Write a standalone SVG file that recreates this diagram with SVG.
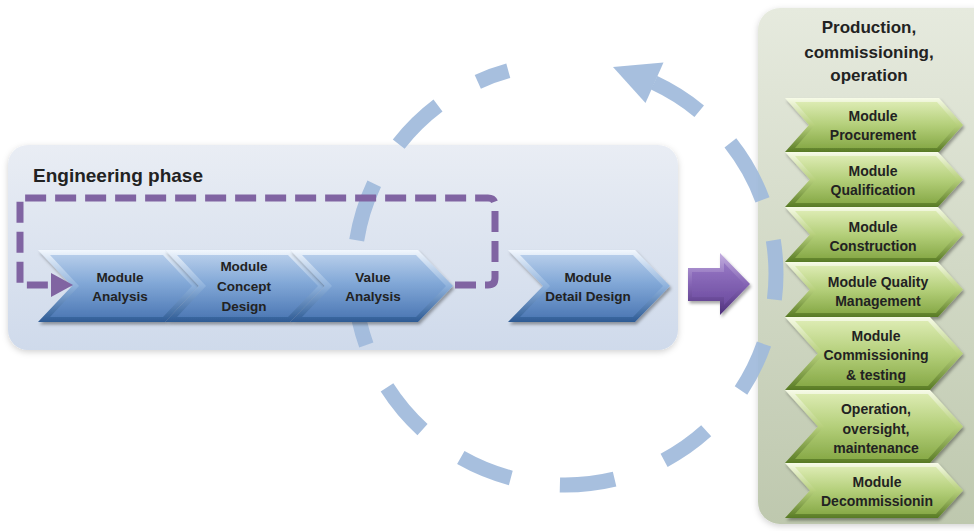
<svg xmlns="http://www.w3.org/2000/svg" width="974" height="531" viewBox="0 0 974 531">
<defs>
  <linearGradient id="engPanel" x1="0" y1="0" x2="0" y2="1">
    <stop offset="0" stop-color="#e9edf4"/>
    <stop offset="1" stop-color="#cfdaeb"/>
  </linearGradient>
  <linearGradient id="prodPanel" x1="0" y1="0" x2="0" y2="1">
    <stop offset="0" stop-color="#e6eade"/>
    <stop offset="1" stop-color="#bec8ae"/>
  </linearGradient>
  <linearGradient id="blueOuter" x1="0" y1="0" x2="0" y2="1">
    <stop offset="0" stop-color="#f2f7fd"/>
    <stop offset="0.5" stop-color="#8fb2dc"/>
    <stop offset="1" stop-color="#2d5a94"/>
  </linearGradient>
  <linearGradient id="blueInner" x1="0" y1="0" x2="0" y2="1">
    <stop offset="0" stop-color="#b6cdea"/>
    <stop offset="0.45" stop-color="#82a8d7"/>
    <stop offset="1" stop-color="#4f7ab6"/>
  </linearGradient>
  <linearGradient id="greenOuter" x1="0" y1="0" x2="0" y2="1">
    <stop offset="0" stop-color="#f7fbe8"/>
    <stop offset="0.5" stop-color="#b7d07c"/>
    <stop offset="1" stop-color="#587a24"/>
  </linearGradient>
  <linearGradient id="greenInner" x1="0" y1="0" x2="0" y2="1">
    <stop offset="0" stop-color="#dcebb2"/>
    <stop offset="0.5" stop-color="#b4cf7a"/>
    <stop offset="1" stop-color="#88aa48"/>
  </linearGradient>
  <linearGradient id="purpleOuter" x1="0" y1="0" x2="0" y2="1">
    <stop offset="0" stop-color="#c4afe0"/>
    <stop offset="0.5" stop-color="#8565b5"/>
    <stop offset="1" stop-color="#4d2f7a"/>
  </linearGradient>
  <linearGradient id="purpleInner" x1="0" y1="0" x2="0" y2="1">
    <stop offset="0" stop-color="#9677c4"/>
    <stop offset="1" stop-color="#6d4ca0"/>
  </linearGradient>
  <filter id="shadow" x="-10%" y="-10%" width="130%" height="140%">
    <feDropShadow dx="1.5" dy="2.5" stdDeviation="1.8" flood-color="#000" flood-opacity="0.35"/>
  </filter>
  <filter id="panelShadow" x="-5%" y="-5%" width="110%" height="115%">
    <feDropShadow dx="0" dy="2" stdDeviation="3" flood-color="#000" flood-opacity="0.18"/>
  </filter>
</defs>
<style>
  .t { font-family: "Liberation Sans", Arial, sans-serif; font-weight: bold; fill: #222; text-anchor: middle; }
  .bt { font-size: 13.5px; }
  .gt { font-size: 14px; }
  .title { font-size: 17px; }
  .arc { fill: none; stroke: #9fbadb; stroke-width: 15; opacity: 0.92; }
  .loop { fill: none; stroke: #8064a2; stroke-width: 7; stroke-dasharray: 21 9; }
</style>

<g id="engineering-panel">
  <rect x="8" y="145" width="670" height="205" rx="20" fill="url(#engPanel)" filter="url(#panelShadow)"/>
  <text x="33" y="182" font-family="Liberation Sans, Arial, sans-serif" font-weight="bold" font-size="19" fill="#222">Engineering phase</text>
</g>

<g id="production-panel">
  <rect x="758" y="8" width="240" height="516" rx="22" fill="url(#prodPanel)" filter="url(#panelShadow)"/>
  <text class="t title" x="869" y="33">Production,</text>
  <text class="t title" x="869" y="57.5">commissioning,</text>
  <text class="t title" x="869" y="81">operation</text>
</g>

<g id="connectors">
  <g id="cycle">
    <path class="arc" d="M356.7 240.3 A211 211 0 0 1 374.2 183.8"/>
    <path class="arc" d="M398.7 144.1 A211 211 0 0 1 438.0 105.5"/>
    <path class="arc" d="M477.8 81.8 A211 211 0 0 1 508.3 70.8"/>
    <path class="arc" d="M654.2 82.8 A211 211 0 0 1 699.2 111.2"/>
    <polygon points="663.5,62.5 645.5,103 613,67" fill="#9fbadb" opacity="0.92"/>
    <path class="arc" d="M730.4 142.9 A211 211 0 0 1 762.5 199.8"/>
    <path class="arc" d="M773.3 240.3 A211 211 0 0 1 774.4 299.7"/>
    <path class="arc" d="M764.0 344.1 A211 211 0 0 1 741.0 390.5"/>
    <path class="arc" d="M706.2 430.8 A211 211 0 0 1 664.1 460.3"/>
    <path class="arc" d="M614.6 479.1 A211 211 0 0 1 559.9 484.9"/>
    <path class="arc" d="M510.8 477.9 A211 211 0 0 1 460.8 457.5"/>
    <path class="arc" d="M422.5 429.6 A211 211 0 0 1 387.0 387.4"/>
    <path class="arc" d="M366.3 345.1 A211 211 0 0 1 355.6 299.7"/>
  </g>
</g>

<g id="module-analysis" filter="url(#shadow)">
  <polygon points="38,250 165,250 199,286 165,322 38,322 72,286" fill="url(#blueOuter)"/>
  <polygon points="50,255 163,255 192,286 163,317 50,317 79,286" fill="url(#blueInner)"/>
</g>
<g id="module-concept-design" filter="url(#shadow)">
  <polygon points="165,250 290,250 325,286 290,322 165,322 199,286" fill="url(#blueOuter)"/>
  <polygon points="177,255 288,255 318,286 288,317 177,317 206,286" fill="url(#blueInner)"/>
</g>
<g id="value-analysis" filter="url(#shadow)">
  <polygon points="290,250 418,250 453,286 418,322 290,322 325,286" fill="url(#blueOuter)"/>
  <polygon points="302,255 416,255 446,286 416,317 302,317 332,286" fill="url(#blueInner)"/>
</g>
<g id="module-detail-design" filter="url(#shadow)">
  <polygon points="508,250 635,250 670,286 635,322 508,322 543,286" fill="url(#blueOuter)"/>
  <polygon points="520,255 633,255 663,286 633,317 520,317 550,286" fill="url(#blueInner)"/>
</g>
<g id="blue-labels">
  <text class="t bt" x="120" y="282">Module</text>
  <text class="t bt" x="120" y="301">Analysis</text>
  <text class="t bt" x="244" y="271">Module</text>
  <text class="t bt" x="244" y="291">Concept</text>
  <text class="t bt" x="244" y="311">Design</text>
  <text class="t bt" x="373" y="282">Value</text>
  <text class="t bt" x="373" y="301">Analysis</text>
  <text class="t bt" x="588" y="282">Module</text>
  <text class="t bt" x="588" y="301">Detail Design</text>
</g>

<g id="feedback-loop">
  <path class="loop" d="M455 285 H488 Q495 285 495 278 V205 Q495 198 488 198 H20 V285 H52"/>
  <polygon points="51,273 51,297 73,285" fill="#8064a2"/>
</g>

<g id="transition-arrow" filter="url(#shadow)">
  <polygon points="688,268 720,268 720,253 750,284 720,315 720,301 688,301" fill="url(#purpleOuter)"/>
  <polygon points="692,272 724,272 724,263 744,284 724,305 724,297 692,297" fill="url(#purpleInner)"/>
</g>

<g id="module-procurement" filter="url(#shadow)">
  <polygon points="785,98 939,98 963,125 939,152 785,152 809,125" fill="url(#greenOuter)"/>
  <polygon points="795,102 937,102 957,125 937,148 795,148 815,125" fill="url(#greenInner)"/>
</g>
<g id="module-qualification" filter="url(#shadow)">
  <polygon points="785,152 938,152 963,179.5 938,207 785,207 810,179.5" fill="url(#greenOuter)"/>
  <polygon points="795,156 936,156 957,179.5 936,203 795,203 816,179.5" fill="url(#greenInner)"/>
</g>
<g id="module-construction" filter="url(#shadow)">
  <polygon points="785,207 938,207 963,234.5 938,262 785,262 810,234.5" fill="url(#greenOuter)"/>
  <polygon points="795,211 936,211 957,234.5 936,258 795,258 816,234.5" fill="url(#greenInner)"/>
</g>
<g id="module-quality-management" filter="url(#shadow)">
  <polygon points="785,262 938,262 963,289.5 938,317 785,317 810,289.5" fill="url(#greenOuter)"/>
  <polygon points="795,266 936,266 957,289.5 936,313 795,313 816,289.5" fill="url(#greenInner)"/>
</g>
<g id="module-commissioning" filter="url(#shadow)">
  <polygon points="785,317 930,317 963,353.5 930,390 785,390 818,353.5" fill="url(#greenOuter)"/>
  <polygon points="795,321 928,321 957,353.5 928,386 795,386 824,353.5" fill="url(#greenInner)"/>
</g>
<g id="operation-oversight" filter="url(#shadow)">
  <polygon points="785,390 930,390 963,426.5 930,463 785,463 818,426.5" fill="url(#greenOuter)"/>
  <polygon points="795,394 928,394 957,426.5 928,459 795,459 824,426.5" fill="url(#greenInner)"/>
</g>
<g id="module-decommissioning" filter="url(#shadow)">
  <polygon points="785,463 938,463 963,490.5 938,518 785,518 810,490.5" fill="url(#greenOuter)"/>
  <polygon points="795,467 936,467 957,490.5 936,514 795,514 816,490.5" fill="url(#greenInner)"/>
</g>
<g id="green-labels">
  <text class="t gt" x="873" y="120.5">Module</text>
  <text class="t gt" x="873" y="140">Procurement</text>
  <text class="t gt" x="873" y="175.7">Module</text>
  <text class="t gt" x="873" y="195">Qualification</text>
  <text class="t gt" x="873" y="231.7">Module</text>
  <text class="t gt" x="873" y="250.7">Construction</text>
  <text class="t gt" x="878" y="286.7">Module Quality</text>
  <text class="t gt" x="878" y="305.7">Management</text>
  <text class="t gt" x="876" y="340.7">Module</text>
  <text class="t gt" x="876" y="360">Commissioning</text>
  <text class="t gt" x="876" y="380">&amp; testing</text>
  <text class="t gt" x="876" y="414">Operation,</text>
  <text class="t gt" x="876" y="434">oversight,</text>
  <text class="t gt" x="876" y="453">maintenance</text>
  <text class="t gt" x="877" y="486.7">Module</text>
  <text class="t gt" x="877" y="506">Decommissionin</text>
</g>
</svg>
